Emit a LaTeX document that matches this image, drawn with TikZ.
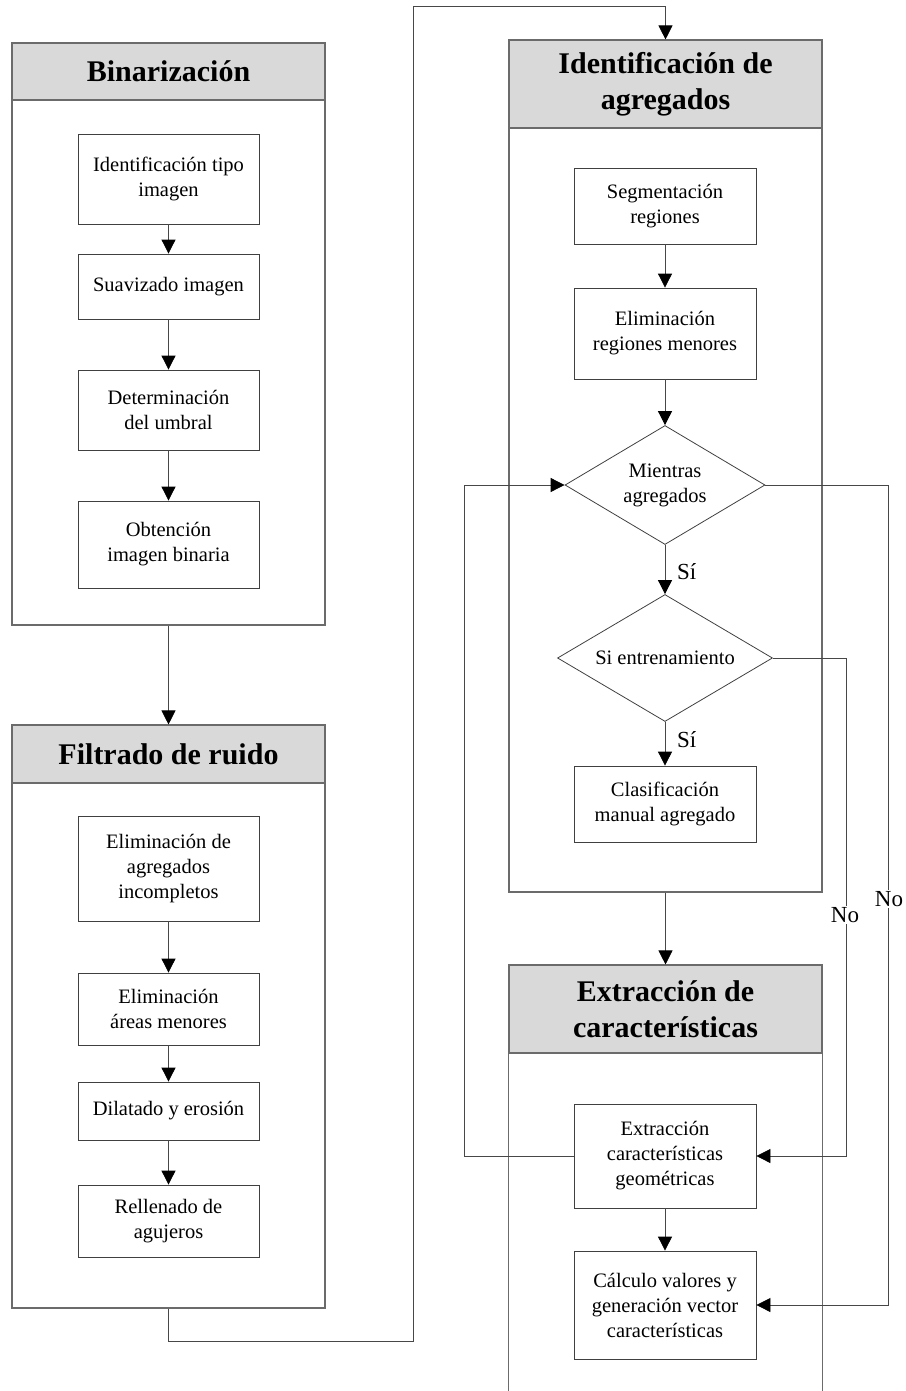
\documentclass[tikz,border=0pt]{standalone}
\usepackage{fontspec}
\setmainfont{Liberation Serif}
\usetikzlibrary{shapes.geometric,arrows.meta}
\tikzset{
  cont/.style={draw=black!58, line width=1.1pt},
  hdr/.style={cont, fill=gray!30, minimum width=313pt, inner sep=0pt, align=center,
    font=\fontsize{30}{36}\selectfont\bfseries},
  body/.style={cont, minimum width=313pt, inner sep=0pt},
  proc/.style={draw=black!75, line width=0.8pt, minimum width=181pt, inner sep=0pt, align=center,
    font=\fontsize{20.5}{25}\selectfont},
  dia/.style={draw=black!75, line width=0.8pt, shape=diamond, inner sep=0pt},
  txt/.style={align=center, inner sep=0pt, font=\fontsize{20.5}{25}\selectfont},
  lbl/.style={inner sep=1pt, font=\fontsize{23}{26}\selectfont},
  arr/.style={draw=black!72, line width=0.8pt, -{Triangle[length=14pt,width=14pt,color=black,fill=black]}},
}
\begin{document}
\begin{tikzpicture}[x=1pt,y=-1pt]
\useasboundingbox (0,0) rectangle (905,1391);
% Binarizacion
\node[hdr, minimum height=57pt] (hB) at (168.5,71.5) {Binarización};
\node[body, minimum height=525pt] (bB) at (168.5,362.5) {};
\node[proc, minimum height=90pt] (b1) at (168.5,179) {Identificación tipo\\imagen};
\node[proc, minimum height=65pt] (b2) at (168.5,286.5) {Suavizado imagen};
\node[proc, minimum height=80pt] (b3) at (168.5,410) {Determinación\\del umbral};
\node[proc, minimum height=87pt] (b4) at (168.5,544.5) {Obtención\\imagen binaria};
% Filtrado
\node[hdr, minimum height=58pt] (hF) at (168.5,754) {Filtrado de ruido};
\node[body, minimum height=525pt] (bF) at (168.5,1045.5) {};
\node[proc, minimum height=105pt] (f1) at (168.5,868.5) {Eliminación de\\agregados\\incompletos};
\node[proc, minimum height=72pt] (f2) at (168.5,1009) {Eliminación\\áreas menores};
\node[proc, minimum height=58pt] (f3) at (168.5,1111) {Dilatado y erosión};
\node[proc, minimum height=72pt] (f4) at (168.5,1221) {Rellenado de\\agujeros};
% Identificacion
\node[hdr, minimum height=88pt] (hI) at (665.5,84) {Identificación de\\agregados};
\node[body, minimum height=764pt] (bI) at (665.5,510) {};
\node[proc, minimum width=182pt, minimum height=76pt] (s1) at (665,206) {Segmentación\\regiones};
\node[proc, minimum width=182pt, minimum height=91pt] (s2) at (665,333.5) {Eliminación\\regiones menores};
\node[dia, minimum width=200pt, minimum height=119pt] (d1) at (665,485) {};
\node[txt] (d1t) at (d1) {Mientras\\agregados};
\node[dia, minimum width=215pt, minimum height=127pt] (d2) at (665,658) {};
\node[txt] (d2t) at (d2) {Si entrenamiento};
\node[proc, minimum width=182pt, minimum height=76pt] (c1) at (665,804) {Clasificación\\manual agregado};
% Extraccion
\node[hdr, minimum height=88pt] (hE) at (665.5,1009) {Extracción de\\características};
\coordinate (eb) at (0,1391);
\draw[cont] (hE.south west) -- (hE.south west |- eb);
\draw[cont] (hE.south east) -- (hE.south east |- eb);
\node[proc, minimum width=182pt, minimum height=104pt] (e1) at (665,1156) {Extracción\\características\\geométricas};
\node[proc, minimum width=182pt, minimum height=108pt] (e2) at (665,1305) {Cálculo valores y\\generación vector\\características};
% connectors
\draw[arr] (b1) -- (b2);
\draw[arr] (b2) -- (b3);
\draw[arr] (b3) -- (b4);
\draw[arr] (bB.south) -- (hF.north);
\draw[arr] (f1) -- (f2);
\draw[arr] (f2) -- (f3);
\draw[arr] (f3) -- (f4);
\coordinate (k1) at (413,1341);
\coordinate (k2) at (413,6);
\draw[arr] (bF.south) |- (k1) -- (k2) -| (hI.north);
\draw[arr] (s1) -- (s2);
\draw[arr] (s2) -- (d1.north);
\draw[arr] (d1.south) -- (d2.north);
\node[lbl, anchor=west] (si1) at (676,572) {Sí};
\draw[arr] (d2.south) -- (c1.north);
\node[lbl, anchor=west] (si2) at (676,740) {Sí};
\draw[arr] (bI.south) -- (hE.north);
\draw[arr] (e1) -- (e2);
\coordinate (L) at (464,0);
\draw[arr] (e1.west) -- (e1.west -| L) -- (d1.west -| L) -- (d1.west);
\coordinate (R1) at (888,0);
\draw[arr] (d1.east) -- (d1.east -| R1) -- (e2.east -| R1) -- (e2.east);
\coordinate (R2) at (846,0);
\draw[arr] (d2.east) -- (d2.east -| R2) -- (e1.east -| R2) -- (e1.east);
\node[lbl, fill=white] (no1) at (845,915) {No};
\node[lbl, fill=white] (no2) at (889,899) {No};
\end{tikzpicture}
\end{document}
